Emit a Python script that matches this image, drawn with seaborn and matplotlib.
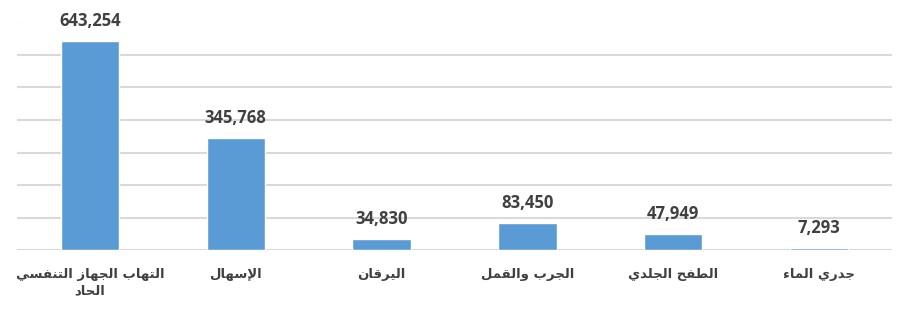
import matplotlib
matplotlib.use("Agg")
import matplotlib.pyplot as plt
import seaborn as sns
import pandas as pd

# ---- data ----
categories = ["التهاب الجهاز التنفسي\nالحاد", "الإسهال", "اليرقان",
              "الجرب والقمل", "الطفح الجلدي", "جدري الماء"]
values = [643254, 345768, 34830, 83450, 47949, 7293]

# ---- minimal Arabic shaping (presentation forms + RTL order) ----
FORMS = {
    '\u0621': ('\uFE80', None, None, None),
    '\u0625': ('\uFE87', '\uFE88', None, None),
    '\u0627': ('\uFE8D', '\uFE8E', None, None),
    '\u0628': ('\uFE8F', '\uFE90', '\uFE91', '\uFE92'),
    '\u062A': ('\uFE95', '\uFE96', '\uFE97', '\uFE98'),
    '\u062C': ('\uFE9D', '\uFE9E', '\uFE9F', '\uFEA0'),
    '\u062D': ('\uFEA1', '\uFEA2', '\uFEA3', '\uFEA4'),
    '\u062F': ('\uFEA9', '\uFEAA', None, None),
    '\u0631': ('\uFEAD', '\uFEAE', None, None),
    '\u0632': ('\uFEAF', '\uFEB0', None, None),
    '\u0633': ('\uFEB1', '\uFEB2', '\uFEB3', '\uFEB4'),
    '\u0637': ('\uFEC1', '\uFEC2', '\uFEC3', '\uFEC4'),
    '\u0641': ('\uFED1', '\uFED2', '\uFED3', '\uFED4'),
    '\u0642': ('\uFED5', '\uFED6', '\uFED7', '\uFED8'),
    '\u0644': ('\uFEDD', '\uFEDE', '\uFEDF', '\uFEE0'),
    '\u0645': ('\uFEE1', '\uFEE2', '\uFEE3', '\uFEE4'),
    '\u0646': ('\uFEE5', '\uFEE6', '\uFEE7', '\uFEE8'),
    '\u0647': ('\uFEE9', '\uFEEA', '\uFEEB', '\uFEEC'),
    '\u0648': ('\uFEED', '\uFEEE', None, None),
    '\u064A': ('\uFEF1', '\uFEF2', '\uFEF3', '\uFEF4'),
}
LAMALEF = {'\u0627': ('\uFEFB', '\uFEFC'), '\u0625': ('\uFEF9', '\uFEFA')}


def joins_left(c):
    return c in FORMS and FORMS[c][2] is not None


def joins_right(c):
    return c in FORMS and FORMS[c][1] is not None


def shape_line(s):
    out = []
    i = 0
    n = len(s)
    while i < n:
        c = s[i]
        prev = s[i - 1] if i > 0 else ''
        if c not in FORMS:
            out.append(c)
            i += 1
            continue
        jp = joins_left(prev) and joins_right(c)
        if c == '\u0644' and i + 1 < n and s[i + 1] in LAMALEF:
            iso, fin = LAMALEF[s[i + 1]]
            out.append(fin if jp else iso)
            i += 2
            continue
        nxt = s[i + 1] if i + 1 < n else ''
        jn = joins_left(c) and joins_right(nxt)
        iso, fin, ini, med = FORMS[c]
        if jp and jn:
            out.append(med)
        elif jp:
            out.append(fin)
        elif jn:
            out.append(ini)
        else:
            out.append(iso)
        i += 1
    return ''.join(out)[::-1]


def shape(s):
    return '\n'.join(shape_line(l) for l in s.split('\n'))


df = pd.DataFrame({"category": categories, "value": values})

sns.set_theme(style="white")
plt.rcParams['font.family'] = ['DejaVu Sans']

fig = plt.figure(figsize=(9.09, 3.14), dpi=100)
ax = fig.add_axes([17 / 909, 1 - 250 / 314, 875 / 909, 227.5 / 314])

sns.barplot(data=df, x="category", y="value", color="#5B9BD5",
            saturation=1, width=0.40, ax=ax, zorder=3)

ax.set_ylim(0, 700000)
ax.set_xlim(-0.5, len(categories) - 0.5)
ax.set_yticks(range(0, 700001, 100000))
ax.yaxis.grid(True, color="#D9D9D9", linewidth=1.5, zorder=0)
ax.set_axisbelow(True)
ax.tick_params(axis='y', left=False, labelleft=False)
ax.tick_params(axis='x', length=0, pad=13)
for sp in ax.spines.values():
    sp.set_visible(False)
ax.set_xlabel("")
ax.set_ylabel("")

ax.set_xticks(range(len(categories)))
ax.set_xticklabels([shape(c) for c in categories], fontsize=9.5,
                   fontweight='bold', color="#404040", linespacing=1.35)

ax.bar_label(ax.containers[0], labels=[f"{v:,}" for v in values],
             padding=8, fontsize=12, fontweight='bold', color="#404040",
             family=['Open Sans', 'DejaVu Sans'])

fig.savefig("out.png", dpi=100)
